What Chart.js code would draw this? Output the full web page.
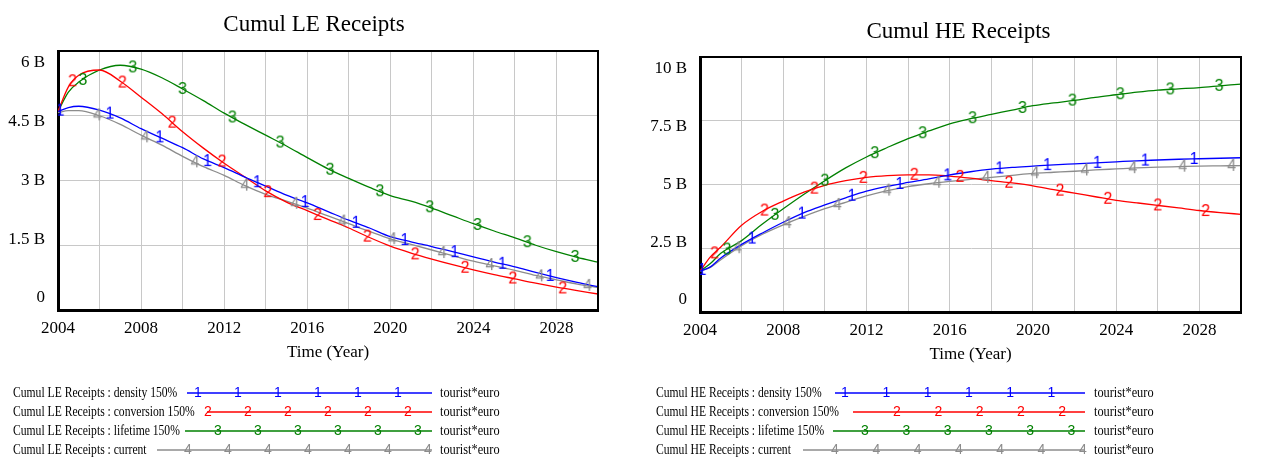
<!DOCTYPE html>
<html>
<head>
<meta charset="utf-8">
<script src="https://cdn.jsdelivr.net/npm/chart.js@4.4.1/dist/chart.umd.min.js"></script>
<style>
    html, body { margin: 0; padding: 0; background: #fff; }
    #wrap { position: relative; width: 1265px; height: 460px; overflow: hidden; }
    .box { position: absolute; top: 0; height: 460px; width: 630px; }
    #boxLE { left: 0; }
    #boxHE { left: 635px; }
</style>
</head>
<body>
<div id="wrap">
    <div class="box" id="boxLE"><canvas id="chartLE"></canvas></div>
    <div class="box" id="boxHE"><canvas id="chartHE"></canvas></div>
</div>
<script>
// time axis (years), values in billions of tourist*euro
var years = [2004, 2004.5, 2005, 2006, 2007, 2008, 2009, 2010, 2011, 2012, 2013, 2014, 2015, 2016,
    2017, 2018, 2019, 2020, 2021, 2022, 2023, 2024, 2025, 2026, 2027, 2028, 2029, 2030];

var leDensity    = [4.6, 4.69, 4.72, 4.63, 4.45, 4.2, 3.98, 3.76, 3.5, 3.3, 3.08, 2.87, 2.66, 2.48, 2.28, 2.08, 1.9, 1.7, 1.58, 1.47, 1.35, 1.23, 1.11, 1.0, 0.87, 0.75, 0.64, 0.54];
var leConversion = [4.6, 5.17, 5.44, 5.56, 5.3, 4.93, 4.55, 4.13, 3.75, 3.4, 3.08, 2.76, 2.5, 2.3, 2.1, 1.9, 1.68, 1.48, 1.32, 1.18, 1.05, 0.93, 0.82, 0.72, 0.62, 0.53, 0.45, 0.37];
var leLifetime   = [4.6, 5.05, 5.28, 5.56, 5.67, 5.58, 5.38, 5.12, 4.85, 4.56, 4.3, 4.05, 3.8, 3.53, 3.27, 3.05, 2.84, 2.65, 2.52, 2.36, 2.18, 2.0, 1.83, 1.67, 1.5, 1.35, 1.22, 1.11];
var leCurrent    = [4.57, 4.62, 4.62, 4.5, 4.3, 4.05, 3.82, 3.56, 3.32, 3.12, 2.88, 2.68, 2.52, 2.36, 2.18, 2.0, 1.82, 1.65, 1.52, 1.39, 1.26, 1.13, 1.02, 0.92, 0.8, 0.7, 0.6, 0.52];

var heDensity    = [1.6, 1.77, 2.12, 2.65, 3.1, 3.52, 3.9, 4.2, 4.48, 4.74, 4.93, 5.08, 5.22, 5.38, 5.5, 5.6, 5.67, 5.72, 5.77, 5.81, 5.85, 5.89, 5.93, 5.96, 5.99, 6.01, 6.03, 6.05];
var heConversion = [1.6, 2.16, 2.55, 3.4, 3.95, 4.35, 4.7, 4.97, 5.15, 5.28, 5.35, 5.38, 5.38, 5.33, 5.25, 5.15, 5.06, 4.95, 4.8, 4.66, 4.52, 4.38, 4.28, 4.18, 4.08, 3.98, 3.9, 3.83];
var heLifetime   = [1.6, 1.9, 2.3, 2.8, 3.45, 4.05, 4.62, 5.15, 5.65, 6.08, 6.45, 6.8, 7.1, 7.38, 7.58, 7.75, 7.92, 8.09, 8.2, 8.3, 8.42, 8.52, 8.62, 8.7, 8.75, 8.8, 8.87, 8.94];
var heCurrent    = [1.6, 1.75, 2.05, 2.6, 3.05, 3.42, 3.75, 4.05, 4.3, 4.55, 4.76, 4.92, 5.03, 5.12, 5.2, 5.28, 5.36, 5.44, 5.48, 5.52, 5.57, 5.61, 5.65, 5.68, 5.7, 5.72, 5.73, 5.74];

// numbered markers along each line: [year, value]
var leDensityMarks    = [[2004.1, 4.62], [2006.5, 4.55], [2008.9, 4.0], [2011.2, 3.45], [2013.6, 2.96], [2015.9, 2.5], [2018.35, 2.02], [2020.7, 1.62], [2023.1, 1.34], [2025.4, 1.07], [2027.7, 0.79]];
var leConversionMarks = [[2004.7, 5.3], [2007.1, 5.27], [2009.5, 4.34], [2011.9, 3.44], [2014.1, 2.73], [2016.5, 2.2], [2018.9, 1.7], [2021.2, 1.29], [2023.6, 0.98], [2025.9, 0.73], [2028.3, 0.5]];
var leLifetimeMarks   = [[2005.2, 5.33], [2007.6, 5.62], [2010.0, 5.12], [2012.4, 4.46], [2014.7, 3.88], [2017.1, 3.25], [2019.5, 2.75], [2021.9, 2.38], [2024.2, 1.97], [2026.6, 1.57], [2028.9, 1.23]];
var leCurrentMarks    = [[2005.9, 4.51], [2008.2, 4.0], [2010.6, 3.42], [2013.0, 2.88], [2015.4, 2.46], [2017.7, 2.05], [2020.1, 1.64], [2022.5, 1.32], [2024.8, 1.04], [2027.2, 0.78], [2029.5, 0.56]];

var heDensityMarks    = [[2004.1, 1.65], [2006.5, 2.88], [2008.9, 3.86], [2011.3, 4.56], [2013.6, 5.02], [2015.9, 5.36], [2018.4, 5.63], [2020.7, 5.76], [2023.1, 5.85], [2025.4, 5.94], [2027.75, 6.0]];
var heConversionMarks = [[2004.7, 2.3], [2007.1, 3.98], [2009.5, 4.84], [2011.85, 5.26], [2014.3, 5.38], [2016.5, 5.3], [2018.85, 5.07], [2021.3, 4.76], [2023.6, 4.44], [2026.0, 4.18], [2028.3, 3.96]];
var heLifetimeMarks   = [[2005.3, 2.45], [2007.6, 3.81], [2010.0, 5.15], [2012.4, 6.23], [2014.7, 7.01], [2017.1, 7.6], [2019.5, 8.0], [2021.9, 8.29], [2024.2, 8.54], [2026.6, 8.73], [2028.95, 8.87]];
var heCurrentMarks    = [[2005.8, 2.5], [2008.2, 3.49], [2010.6, 4.2], [2013.0, 4.76], [2015.4, 5.07], [2017.75, 5.26], [2020.1, 5.44], [2022.5, 5.55], [2024.8, 5.64], [2027.2, 5.7], [2029.55, 5.73]];

var leNames = ['Cumul LE Receipts : density 150%', 'Cumul LE Receipts : conversion 150%',
    'Cumul LE Receipts : lifetime 150%', 'Cumul LE Receipts : current'];
var heNames = ['Cumul HE Receipts : density 150%', 'Cumul HE Receipts : conversion 150%',
    'Cumul HE Receipts : lifetime 150%', 'Cumul HE Receipts : current'];
var unitLabel = 'tourist*euro';
var seriesDigits = ['1', '2', '3', '4'];
var seriesColors = ['#0000ff', '#ff0000', '#008000', '#8c8c8c'];

var serif = '"Liberation Serif", "Times New Roman", serif';
var sans = '"Liberation Sans", Arial, sans-serif';

function digitImage(digit, color, size) {
    var c = document.createElement('canvas');
    c.width = 14;
    c.height = 18;
    var g = c.getContext('2d');
    g.fillStyle = color;
    g.font = size + 'px ' + sans;
    g.textAlign = 'center';
    g.textBaseline = 'middle';
    g.fillText(digit, 7, 9.5);
    return c;
}

var vensimDeco = {
    id: 'vensimDeco',
    afterDraw: function (chart, args, opts) {
        var ctx = chart.ctx;
        var a = chart.chartArea;
        var ys = chart.scales.y;
        ctx.save();

        // top and right frame
        ctx.strokeStyle = '#000';
        ctx.lineWidth = 2;
        ctx.beginPath();
        ctx.moveTo(a.left, a.top);
        ctx.lineTo(a.right, a.top);
        ctx.lineTo(a.right, a.bottom);
        ctx.stroke();

        // title
        ctx.fillStyle = '#000';
        ctx.font = '23px ' + serif;
        ctx.textAlign = 'center';
        ctx.textBaseline = 'middle';
        ctx.fillText(opts.title, (a.left + a.right) / 2 + opts.titleShift, opts.titleY);

        // y labels, pulled in a bit from the frame edges
        ctx.font = '17px ' + serif;
        ctx.textAlign = 'right';
        var h = a.bottom - a.top;
        ys.ticks.forEach(function (t) {
            var p = ys.getPixelForValue(t.value);
            var py = a.top + 12 + (p - a.top) * (h - 24) / h;
            ctx.fillText(t.value === 0 ? '0' : t.value + ' B', a.left - 13, py);
        });

        // legend rows
        var lg = opts.legend;
        for (var i = 0; i < 4; i++) {
            var ry = lg.rowY[i];
            ctx.font = '14px ' + serif;
            ctx.textAlign = 'left';
            ctx.fillStyle = '#000';
            var w = ctx.measureText(lg.names[i]).width;
            ctx.fillText(lg.names[i], lg.textX, ry, w * 0.83);
            w = ctx.measureText(unitLabel).width;
            ctx.fillText(unitLabel, lg.unitX, ry, w * 0.88);

            ctx.strokeStyle = seriesColors[i];
            ctx.lineWidth = 1.3;
            ctx.beginPath();
            ctx.moveTo(lg.lineStart[i], ry);
            ctx.lineTo(lg.lineEnd, ry);
            ctx.stroke();

            ctx.fillStyle = seriesColors[i];
            ctx.font = '14px ' + sans;
            ctx.textAlign = 'center';
            for (var mx = lg.firstMark[i]; mx <= lg.lineEnd + 1; mx += lg.spacing) {
                ctx.fillText(seriesDigits[i], mx, ry + 0.5);
            }
        }
        ctx.restore();
    }
};

function buildDatasets(series, marks) {
    var ds = [];
    series.forEach(function (vals, i) {
        ds.push({
            data: years.map(function (x, j) { return { x: x, y: vals[j] }; }),
            borderColor: seriesColors[i],
            borderWidth: 1.3,
            pointRadius: 0,
            cubicInterpolationMode: 'monotone',
            order: i + 1
        });
    });
    marks.forEach(function (m, i) {
        ds.push({
            data: m.map(function (p) { return { x: p[0], y: p[1] }; }),
            showLine: false,
            pointStyle: digitImage(seriesDigits[i], seriesColors[i], 16),
            pointRadius: 5,
            order: 0
        });
    });
    return ds;
}

function makeChart(id, cfg) {
    var ctx = document.getElementById(id).getContext('2d');
    return new Chart(ctx, {
        type: 'line',
        data: { datasets: buildDatasets(cfg.series, cfg.marks) },
        plugins: [vensimDeco],
        options: {
            responsive: true,
            maintainAspectRatio: false,
            animation: false,
            events: [],
            layout: { padding: cfg.padding },
            plugins: {
                legend: { display: false },
                tooltip: { enabled: false },
                title: { display: false },
                vensimDeco: {
                    title: cfg.title,
                    titleY: cfg.titleY,
                    titleShift: cfg.titleShift,
                    legend: cfg.legend
                }
            },
            scales: {
                x: {
                    type: 'linear',
                    min: 2004,
                    max: 2030,
                    ticks: {
                        stepSize: 2,
                        autoSkip: false,
                        maxRotation: 0,
                        padding: 8,
                        color: '#000',
                        font: { family: serif, size: 17 },
                        callback: function (v) { return (v - 2004) % 4 === 0 ? String(v) : ''; }
                    },
                    grid: { color: '#c8c8c8', lineWidth: 1, drawTicks: false },
                    border: { color: '#000', width: 3 },
                    title: {
                        display: true,
                        text: 'Time (Year)',
                        color: '#000',
                        font: { family: serif, size: 17 },
                        padding: 0
                    },
                    afterFit: function (s) { s.height = 53; }
                },
                y: {
                    min: 0,
                    max: cfg.yMax,
                    ticks: { stepSize: cfg.yStep, display: false },
                    grid: { color: '#c8c8c8', lineWidth: 1, drawTicks: false },
                    border: { color: '#000', width: 3 },
                    afterFit: function (s) { s.width = cfg.yWidth; }
                }
            }
        }
    });
}

var rowY = [393, 412, 431, 450];

makeChart('chartLE', {
    series: [leDensity, leConversion, leLifetime, leCurrent],
    marks: [leDensityMarks, leConversionMarks, leLifetimeMarks, leCurrentMarks],
    title: 'Cumul LE Receipts',
    titleY: 25,
    titleShift: -14,
    yMax: 6,
    yStep: 1.5,
    yWidth: 58,
    padding: { left: 0, right: 32, top: 51, bottom: 97 },
    legend: {
        names: leNames, rowY: rowY, textX: 13, unitX: 440, lineEnd: 432,
        lineStart: [187, 207, 185, 157], firstMark: [198, 208, 218, 188], spacing: 40
    }
});

makeChart('chartHE', {
    series: [heDensity, heConversion, heLifetime, heCurrent],
    marks: [heDensityMarks, heConversionMarks, heLifetimeMarks, heCurrentMarks],
    title: 'Cumul HE Receipts',
    titleY: 32,
    titleShift: -12,
    yMax: 10,
    yStep: 2.5,
    yWidth: 65,
    padding: { left: 0, right: 24, top: 57, bottom: 95 },
    legend: {
        names: heNames, rowY: rowY, textX: 21, unitX: 459, lineEnd: 450,
        lineStart: [200, 218, 198, 168], firstMark: [210, 262, 230, 200], spacing: 41.3
    }
});
</script>
</body>
</html>
